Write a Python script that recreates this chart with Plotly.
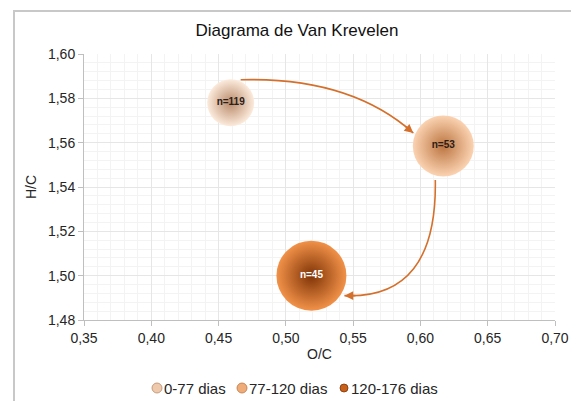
import plotly.graph_objects as go

# ---- data ----
series_names = ["0-77 dias", "77-120 dias", "120-176 dias"]
oc_values = [0.459, 0.617, 0.519]
hc_values = [1.578, 1.5585, 1.500]
bubble_sizes = [47, 61, 70]
labels = ["n=119", "n=53", "n=45"]
x_ticks = [0.35, 0.40, 0.45, 0.50, 0.55, 0.60, 0.65, 0.70]
y_ticks = [1.48, 1.50, 1.52, 1.54, 1.56, 1.58, 1.60]

# ---- styling ----
W, H = 571, 401
ML, MR, MT, MB = 84, 16, 54, 81
PW, PH = W - ML - MR, H - MT - MB
XR = [0.35, 0.70]
YR = [1.48, 1.60]
center_colors = ["#FCEBDC", "#FBD3B2", "#F29249"]
edge_colors = ["#B98A6B", "#BC7541", "#7F3306"]
legend_colors = ["#EFC9AB", "#F0AC78", "#C8601A"]
text_colors = ["#2a2018", "#2a2018", "#FFFFFF"]
legend_sym = [10, 10, 8]
arrow_color = "#D4702C"
FONT = "Liberation Sans, Arial, sans-serif"


def to_px(x, y):
    return (ML + (x - XR[0]) / (XR[1] - XR[0]) * PW,
            MT + (YR[1] - y) / (YR[1] - YR[0]) * PH)


def to_data(px, py):
    return (XR[0] + (px - ML) / PW * (XR[1] - XR[0]),
            YR[1] - (py - MT) / PH * (YR[1] - YR[0]))


fig = go.Figure()
for i in range(3):
    fig.add_trace(go.Scatter(
        x=[oc_values[i]], y=[hc_values[i]], mode="markers+text",
        name=series_names[i], showlegend=False, hoverinfo="skip",
        text=["<b>" + labels[i] + "</b>"], textposition="middle center",
        textfont=dict(size=10, color=text_colors[i], family=FONT),
        marker=dict(size=bubble_sizes[i], color=center_colors[i],
                    gradient=dict(type="radial", color=edge_colors[i]),
                    line=dict(width=0)),
        cliponaxis=False,
    ))

# curved arrows between bubbles (bezier, computed from bubble centres)
c = [to_px(oc_values[i], hc_values[i]) for i in range(3)]
arrows = [
    ((c[0][0] + 10, c[0][1] - 23), (c[1][0] - 30, c[1][1] - 13)),
    ((c[1][0] - 8, c[1][1] + 34), (c[2][0] + 33, c[2][1] + 20)),
]
ctrls = [
    (arrows[0][1][0] - 63, arrows[0][0][1] - 3),
    (arrows[1][0][0] + 2, arrows[1][1][1] + 4),
]
for (s, e), q in zip(arrows, ctrls):
    sd, qd, ed = to_data(*s), to_data(*q), to_data(*e)
    fig.add_shape(type="path",
                  path=f"M {sd[0]},{sd[1]} Q {qd[0]},{qd[1]} {ed[0]},{ed[1]}",
                  xref="x", yref="y", line=dict(color=arrow_color, width=1.6))
    t = 0.93
    bx = (1 - t) ** 2 * s[0] + 2 * (1 - t) * t * q[0] + t ** 2 * e[0]
    by = (1 - t) ** 2 * s[1] + 2 * (1 - t) * t * q[1] + t ** 2 * e[1]
    bd = to_data(bx, by)
    fig.add_annotation(x=ed[0], y=ed[1], ax=bd[0], ay=bd[1], xref="x", yref="y",
                       axref="x", ayref="y", text="", showarrow=True,
                       arrowhead=2, arrowsize=1.1, arrowwidth=1.6,
                       arrowcolor=arrow_color, standoff=0, startstandoff=0)

# outer chart frame
fig.add_shape(type="rect", xref="paper", yref="paper",
              x0=(14 - ML) / PW, x1=(W + 20 - ML) / PW,
              y0=(H - MB - (H + 20)) / PH, y1=(H - MB - 11) / PH,
              line=dict(color="#C8C8C8", width=2), fillcolor="rgba(0,0,0,0)", layer="below")

# manual legend (symbol + text), positioned in pixels
leg_sym_x = [157, 242, 344]
leg_y = 388
for i in range(3):
    px_ = (leg_sym_x[i] - ML) / PW
    py_ = (H - MB - leg_y) / PH
    s = legend_sym[i] / 2
    fig.add_shape(type="circle", xref="paper", yref="paper",
                  xsizemode="pixel", ysizemode="pixel", xanchor=px_, yanchor=py_,
                  x0=-s, x1=s, y0=-s, y1=s,
                  fillcolor=legend_colors[i], line=dict(color=edge_colors[i], width=0.8))
    fig.add_annotation(x=(leg_sym_x[i] + 5 - ML) / PW, y=py_, xref="paper", yref="paper",
                       text=series_names[i], showarrow=False, xanchor="left",
                       yanchor="middle",
                       font=dict(size=15, color="#262626", family=FONT))

axis_common = dict(showline=True, linecolor="#BFBFBF", linewidth=1,
                   ticks="outside", ticklen=5, tickcolor="#BFBFBF",
                   gridcolor="#E6E6E6", zeroline=False,
                   tickfont=dict(size=14, color="#262626", family=FONT),
                   tickformat=".2f")
fig.update_layout(
    width=W, height=H, separators=",.",
    margin=dict(l=ML, r=MR, t=MT, b=MB, autoexpand=False),
    paper_bgcolor="white", plot_bgcolor="white",
    title=dict(text="Diagrama de Van Krevelen", x=297 / W, xanchor="center",
               y=1 - 30 / H, yanchor="middle", xref="container", yref="container",
               font=dict(size=17, color="#111111", family=FONT)),
    xaxis=dict(range=XR, tickvals=x_ticks,
               title=dict(text="O/C", font=dict(size=14, color="#262626", family=FONT), standoff=4),
               minor=dict(dtick=0.01, showgrid=True, gridcolor="#F3F3F3", ticks=""),
               **axis_common),
    yaxis=dict(range=YR, tickvals=y_ticks,
               title=dict(text="H/C", font=dict(size=14, color="#262626", family=FONT), standoff=8),
               minor=dict(dtick=0.004, showgrid=True, gridcolor="#F3F3F3", ticks=""),
               **axis_common),
    showlegend=False,
)
fig.write_html("out.html", config={"displayModeBar": False},
               post_script="document.body.style.margin='0';document.body.style.overflow='hidden';")
